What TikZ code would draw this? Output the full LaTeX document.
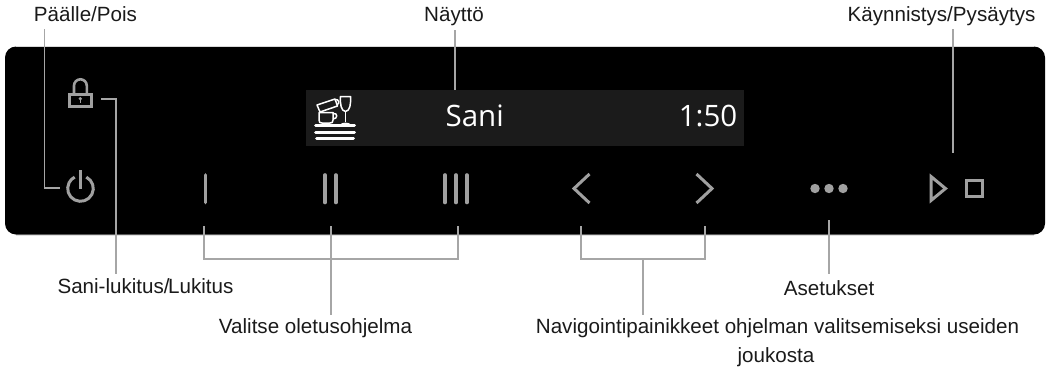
\documentclass[tikz,border=0pt]{standalone}
\usepackage{fontspec}
\setmainfont{Liberation Sans}
\newfontfamily\dispfont{Open Sans}
\definecolor{lead}{HTML}{A6A6A6}
\definecolor{icon}{HTML}{A0A0A0}
\definecolor{disp}{HTML}{1B1B1B}
\definecolor{labeltext}{HTML}{1A1A1A}
\tikzset{
  leader/.style={draw=lead,line width=1.7pt,line join=miter},
  iconline/.style={draw=icon,line width=3pt,line join=miter},
  barline/.style={draw=icon,line width=3.6pt,line cap=round},
  dishline/.style={draw=white,line width=1.5pt,line join=round},
  plate/.style={draw=white,line width=3pt,line cap=round},
  label/.style={text=labeltext,font=\fontsize{20.6}{24}\selectfont,inner sep=0pt,align=center,anchor=base},
  disptext/.style={text=white,font=\dispfont\fontsize{29.5}{34}\selectfont,inner sep=0pt,anchor=base},
}
\begin{document}
\begin{tikzpicture}[x=1pt,y=-1pt]
\useasboundingbox (0,0) rectangle (1049,367);
% panel
\fill[rounded corners=11pt,fill=black] (5,46.5) rectangle (1045,234.5);
\draw[draw=black!15,line width=.7pt] (16,46.3) -- (1034,46.3);
\draw[draw=black!12,line width=.7pt] (16,234.9) -- (1034,234.9);
% display
\fill[disp] (306,90) rectangle (744,146);
\node[disptext] (sani) at (474.7,126.7) {Sani};
\node[disptext] (time) at (708,126.7) {1:50};
% dishes icon
\draw[plate] (315.5,125.7) -- (354.5,125.7);
\draw[plate] (315.5,132) -- (354.5,132);
\draw[plate] (316.5,138.5) -- (353.5,138.5);
\draw[dishline] (319,112.5) -- (319,120) .. controls (319,122.5) and (320,123) .. (322,123) -- (330,123) .. controls (332,123) and (333,122.5) .. (333,120) -- (333,112.5) -- cycle;
\draw[dishline] (333,113.5) .. controls (338,112.5) and (338,119) .. (333,119);
\draw[dishline] (317,105) -- (335,99) -- (337.5,106) -- (320,112) -- cycle;
\draw[dishline] (335,99.5) .. controls (339,99) and (340,103) .. (337,105);
\draw[dishline] (340.5,96.5) -- (350.5,96.5) .. controls (351,104) and (350,111) .. (345.5,111.5) .. controls (341,111) and (340,104) .. (340.5,96.5) -- cycle;
\draw[dishline] (345.5,111.5) -- (345.5,122);
\fill[white] (340,124.5) .. controls (342,122) and (349,122) .. (351,124.5) -- cycle;
% power
\node[inner sep=0pt,minimum size=26pt,circle] (power) at (80.5,188.5) {};
\draw[iconline] (86.3,177.1) arc[start angle=-63,end angle=243,radius=12.8];
\draw[iconline] (80.5,170) -- (80.5,188.5);
% lock
\node[inner sep=0pt,minimum width=24pt,minimum height=15pt] (lock) at (80.5,100.5) {};
\draw[iconline] (69.8,94.8) rectangle (91.2,106.3);
\draw[icon,line width=2.6pt] (74,94.8) -- (74,85.7) arc[start angle=180,end angle=360,radius=6.4] -- (86.8,94.8);
\fill[icon] (80.3,98.7) circle[radius=1.8];
\fill[icon] (79.6,99) rectangle (81,103);
% bars
\node[inner sep=0pt,minimum width=4pt,minimum height=31pt] (prog1) at (205.5,188.5) {};
\draw[barline] (205.5,175) -- (205.5,202.5);
\draw[barline] (325,175) -- (325,202.5);
\draw[barline] (335.8,175) -- (335.8,202.5);
\node[inner sep=0pt,minimum width=14pt,minimum height=31pt] (prog2) at (330.5,188.5) {};
\draw[barline] (445,175) -- (445,202.5);
\draw[barline] (456,175) -- (456,202.5);
\draw[barline] (466.8,175) -- (466.8,202.5);
\node[inner sep=0pt,minimum width=24pt,minimum height=31pt] (prog3) at (456,188.5) {};
% chevrons
\node[inner sep=0pt,minimum width=17pt,minimum height=29pt] (prev) at (581,188.5) {};
\node[inner sep=0pt,minimum width=17pt,minimum height=29pt] (next) at (705,188.5) {};
\draw[iconline] (589.5,174) -- (574,188.5) -- (589.5,203);
\draw[iconline] (696.5,174) -- (712,188.5) -- (696.5,203);
% dots
\fill[icon] (815,188.5) circle[radius=4.7];
\fill[icon] (829,188.5) circle[radius=4.7];
\fill[icon] (843,188.5) circle[radius=4.7];
\node[inner sep=0pt,minimum width=38pt,minimum height=10pt] (dots) at (829,188.5) {};
% start / stop
\draw[iconline] (931,176.5) -- (945.5,188.5) -- (931,200.5) -- cycle;
\draw[iconline] (966.5,180.5) rectangle (982,196.3);
\node[inner sep=0pt,minimum width=54pt,minimum height=28pt] (startstop) at (956,188.5) {};
% labels
\node[label] (lpower) at (85.5,21.7) {Päälle/Pois};
\node[label] (ldisp) at (454,21.7) {Näyttö};
\node[label] (lstart) at (941.5,21.7) {Käynnistys/Pysäytys};
\node[label] (llock) at (145.5,293.3) {Sani-lukitus/\kern-1.5pt Lukitus};
\node[label] (lprog) at (315.5,333.3) {Valitse oletusohjelma};
\node[label] (lset) at (829,295) {Asetukset};
\node[label] (lnav) at (777.5,333.3) {Navigointipainikkeet ohjelman valitsemiseksi useiden};
\node[label] (lnavb) at (776,362.7) {joukosta};
% connector ends
\coordinate (a1) at (44.5,29); \coordinate (a2) at (60,188.3);
\coordinate (b1) at (101,99.3); \coordinate (b2) at (116,273.5);
\coordinate (c0) at (331,226); \coordinate (c1) at (204,226); \coordinate (c2) at (458,226);
\coordinate (cb) at (331,259); \coordinate (c3) at (331,315);
\coordinate (d1) at (581,226); \coordinate (d2) at (705,226);
\coordinate (db) at (643,259); \coordinate (d3) at (643,315);
\coordinate (e1) at (829,220); \coordinate (e2) at (829,273.5);
\coordinate (f1) at (953,29); \coordinate (f2) at (953,153);
\coordinate (g1) at (454.7,30); \coordinate (g2) at (454.7,90);
\draw[leader] (a1) |- (a2);
\draw[leader] (b1) -| (b2);
\draw[leader] (c1) |- (cb) -| (c2);
\draw[leader] (c0) -- (c3);
\draw[leader] (d1) |- (db) -| (d2);
\draw[leader] (db) -- (d3);
\draw[leader] (e1) -- (e2);
\draw[leader] (f1) -- (f2);
\draw[leader] (g1) -- (g2);
\end{tikzpicture}
\end{document}
